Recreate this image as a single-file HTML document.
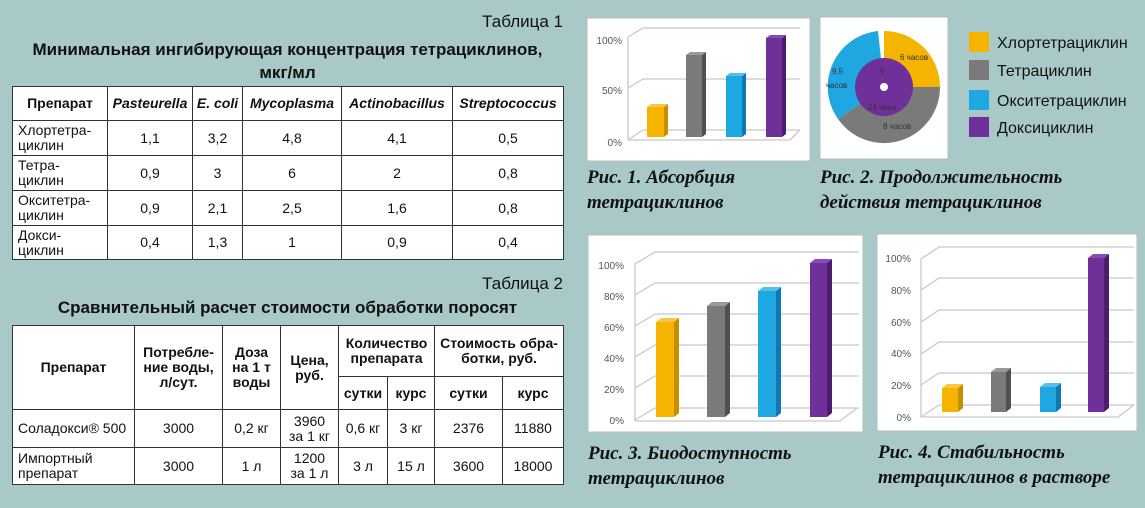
<!DOCTYPE html>
<html><head><meta charset="utf-8"><style>
*{margin:0;padding:0;box-sizing:border-box}
body{width:1145px;height:508px;background:#a9c9c9;position:relative;overflow:hidden;font-family:"Liberation Sans Narrow","Liberation Sans",sans-serif;color:#111}
.abs{position:absolute}
table{border-collapse:collapse;table-layout:fixed;background:#fff;position:absolute;left:12px}
td{border:1.3px solid #333;text-align:center;font-size:14px;line-height:15px;overflow:hidden;padding:0}
.l{text-align:left;padding-left:5px}
.b{font-weight:bold}
.i{font-style:italic;font-weight:bold}
.cap{position:absolute;font-family:"Liberation Serif",serif;font-style:italic;font-weight:bold;font-size:19px;line-height:25px;color:#111}
</style></head><body>
<div class="abs" style="right:582px;top:12px;font-size:17px">Таблица 1</div>
<div class="abs b" style="left:12px;width:551px;top:38px;text-align:center;font-size:17px;line-height:23px">Минимальная ингибирующая концентрация тетрациклинов,<br>мкг/мл</div>
<table style="top:86px;width:551px">
<colgroup><col style="width:95px"><col style="width:85px"><col style="width:50px"><col style="width:99px"><col style="width:111px"><col style="width:111px"></colgroup>
<tr style="height:34px"><td class="b">Препарат</td><td class="i">Pasteurella</td><td class="i">E. coli</td><td class="i">Mycoplasma</td><td class="i">Actinobacillus</td><td class="i">Streptococcus</td></tr>
<tr style="height:35px"><td class="l">Хлортетра-<br>циклин</td><td>1,1</td><td>3,2</td><td>4,8</td><td>4,1</td><td>0,5</td></tr>
<tr style="height:35px"><td class="l">Тетра-<br>циклин</td><td>0,9</td><td>3</td><td>6</td><td>2</td><td>0,8</td></tr>
<tr style="height:35px"><td class="l">Окситетра-<br>циклин</td><td>0,9</td><td>2,1</td><td>2,5</td><td>1,6</td><td>0,8</td></tr>
<tr style="height:34px"><td class="l">Докси-<br>циклин</td><td>0,4</td><td>1,3</td><td>1</td><td>0,9</td><td>0,4</td></tr>
</table>
<div class="abs" style="right:582px;top:274px;font-size:17px">Таблица 2</div>
<div class="abs b" style="left:12px;width:551px;top:296px;text-align:center;font-size:17px;line-height:23px">Сравнительный расчет стоимости обработки поросят</div>
<table style="top:325px;width:551px">
<colgroup><col style="width:122px"><col style="width:88px"><col style="width:58px"><col style="width:58px"><col style="width:49px"><col style="width:47px"><col style="width:68px"><col style="width:61px"></colgroup>
<tr style="height:51px"><td class="b" rowspan="2">Препарат</td><td class="b" rowspan="2">Потребле-<br>ние воды,<br>л/сут.</td><td class="b" rowspan="2">Доза<br>на 1 т<br>воды</td><td class="b" rowspan="2">Цена,<br>руб.</td><td class="b" colspan="2">Количество<br>препарата</td><td class="b" colspan="2">Стоимость обра-<br>ботки, руб.</td></tr>
<tr style="height:33px"><td class="b">сутки</td><td class="b">курс</td><td class="b">сутки</td><td class="b">курс</td></tr>
<tr style="height:38px"><td class="l">Соладокси® 500</td><td>3000</td><td>0,2 кг</td><td>3960<br>за 1 кг</td><td>0,6 кг</td><td>3 кг</td><td>2376</td><td>11880</td></tr>
<tr style="height:37px"><td class="l">Импортный<br>препарат</td><td>3000</td><td>1 л</td><td>1200<br>за 1 л</td><td>3 л</td><td>15 л</td><td>3600</td><td>18000</td></tr>
</table>

<svg class="abs" style="left:0;top:0" width="1145" height="508" font-family="Liberation Sans, sans-serif">
<!-- chart boxes -->
<rect x="587" y="18" width="223" height="143" fill="#fff" stroke="#bbb"/>
<rect x="820" y="17" width="128" height="142" fill="#fff" stroke="#bbb"/>
<rect x="588" y="235" width="275" height="197" fill="#fff" stroke="#bbb"/>
<rect x="877" y="234" width="260" height="197" fill="#fff" stroke="#bbb"/>
<g stroke="#c8c8c8" stroke-width="1.3" fill="none">
<!-- chart1 grid -->
<polyline points="628,37 643,28 800,28"/><polyline points="628,88 643,79 800,79"/><polyline points="628,140 643,130 800,130"/>
<line x1="628" y1="37" x2="628" y2="140"/><line x1="628" y1="140" x2="790" y2="140"/><line x1="790" y1="140" x2="800" y2="130"/>
<!-- chart3 grid -->
<polyline points="635,264 655,252 859,252"/><polyline points="635,295 655,283 859,283"/><polyline points="635,326 655,314 859,314"/><polyline points="635,357 655,345 859,345"/><polyline points="635,388 655,376 859,376"/><polyline points="635,420 655,408 859,408"/>
<line x1="635" y1="264" x2="635" y2="421"/><line x1="635" y1="421" x2="840" y2="421"/><line x1="840" y1="421" x2="857" y2="408"/>
<!-- chart4 grid -->
<polyline points="921,259 939,247 1134,247"/><polyline points="921,290 939,278 1134,278"/><polyline points="921,322 939,310 1134,310"/><polyline points="921,354 939,342 1134,342"/><polyline points="921,385 939,373 1134,373"/><polyline points="921,417 939,405 1134,405"/>
<line x1="921" y1="259" x2="921" y2="417"/><line x1="921" y1="417" x2="1118" y2="417"/><line x1="1118" y1="417" x2="1134" y2="405"/>
</g>
<g font-size="10" fill="#555" text-anchor="end">
<text x="622" y="44">100%</text><text x="622" y="94">50%</text><text x="622" y="146">0%</text>
<text x="624" y="269">100%</text><text x="624" y="300">80%</text><text x="624" y="331">60%</text><text x="624" y="362">40%</text><text x="624" y="393">20%</text><text x="624" y="424">0%</text>
<text x="911" y="262">100%</text><text x="911" y="294">80%</text><text x="911" y="326">60%</text><text x="911" y="357">40%</text><text x="911" y="389">20%</text><text x="911" y="421">0%</text>
</g>
<!-- bars: front, side, top -->
<g id="bars">
<!-- chart1 -->
<rect x="647" y="107" width="17" height="30" fill="#f5b400"/><polygon points="664,107 668,104 668,134 664,137" fill="#c68e00"/><polygon points="647,107 651,104 668,104 664,107" fill="#f9c640"/>
<rect x="686" y="55" width="16" height="82" fill="#7a7a7a"/><polygon points="702,55 706,52 706,134 702,137" fill="#505050"/><polygon points="686,55 690,52 706,52 702,55" fill="#999"/>
<rect x="726" y="76" width="16" height="61" fill="#1ea7e0"/><polygon points="742,76 746,73 746,134 742,137" fill="#0f78b0"/><polygon points="726,76 730,73 746,73 742,76" fill="#55c0ee"/>
<rect x="766" y="38" width="16" height="99" fill="#70309a"/><polygon points="782,38 786,35 786,134 782,137" fill="#4b1d6e"/><polygon points="766,38 770,35 786,35 782,38" fill="#8a4cb4"/>
<!-- chart3 -->
<rect x="656" y="322" width="18" height="95" fill="#f5b400"/><polygon points="674,322 679,318 679,413 674,417" fill="#c68e00"/><polygon points="656,322 661,318 679,318 674,322" fill="#f9c640"/>
<rect x="707" y="306" width="18" height="111" fill="#7a7a7a"/><polygon points="725,306 730,302 730,413 725,417" fill="#505050"/><polygon points="707,306 712,302 730,302 725,306" fill="#999"/>
<rect x="758" y="291" width="18" height="126" fill="#1ea7e0"/><polygon points="776,291 781,287 781,413 776,417" fill="#0f78b0"/><polygon points="758,291 763,287 781,287 776,291" fill="#55c0ee"/>
<rect x="810" y="263" width="17" height="154" fill="#70309a"/><polygon points="827,263 832,259 832,413 827,417" fill="#4b1d6e"/><polygon points="810,263 815,259 832,259 827,263" fill="#8a4cb4"/>
<!-- chart4 -->
<rect x="942" y="388" width="16" height="24" fill="#f5b400"/><polygon points="958,388 963,384 963,408 958,412" fill="#c68e00"/><polygon points="942,388 947,384 963,384 958,388" fill="#f9c640"/>
<rect x="991" y="372" width="15" height="40" fill="#7a7a7a"/><polygon points="1006,372 1011,368 1011,408 1006,412" fill="#505050"/><polygon points="991,372 996,368 1011,368 1006,372" fill="#999"/>
<rect x="1040" y="387" width="16" height="25" fill="#1ea7e0"/><polygon points="1056,387 1061,383 1061,408 1056,412" fill="#0f78b0"/><polygon points="1040,387 1045,383 1061,383 1056,387" fill="#55c0ee"/>
<rect x="1088" y="258" width="16" height="154" fill="#70309a"/><polygon points="1104,258 1109,254 1109,408 1104,412" fill="#4b1d6e"/><polygon points="1088,258 1093,254 1109,254 1104,258" fill="#8a4cb4"/>
</g>
<!-- donut -->
<path d="M884,87 L884,31 A56,56 0 0 1 940,87 Z" fill="#f5b400"/>
<path d="M884,87 L940,87 A56,56 0 0 1 838,119 Z" fill="#7a7a7a"/>
<path d="M884,87 L838,119 A56,56 0 0 1 878,31 Z" fill="#1ea7e0"/>
<circle cx="884" cy="87" r="29" fill="#70309a"/>
<circle cx="884" cy="87" r="4" fill="#fff"/>
<g font-size="8" fill="#333">
<text x="900" y="60">6 часов</text><text x="832" y="74">9,5</text><text x="826" y="88">часов</text><text x="880" y="73">0</text><text x="868" y="110">24 часа</text><text x="883" y="129">8 часов</text>
</g>
<!-- legend -->
<rect x="969" y="32" width="20" height="20" fill="#f5b400"/>
<rect x="969" y="60" width="20" height="20" fill="#7a7a7a"/>
<rect x="969" y="90" width="20" height="20" fill="#1ea7e0"/>
<rect x="969" y="117" width="20" height="20" fill="#70309a"/>
<g font-size="16" fill="#111" font-family="Liberation Sans Narrow, Liberation Sans, sans-serif">
<text x="997" y="48">Хлортетрациклин</text><text x="997" y="76">Тетрациклин</text><text x="997" y="106">Окситетрациклин</text><text x="997" y="133">Доксициклин</text>
</g>
</svg>
<div class="cap" style="left:587px;top:165px">Рис. 1. Абсорбция<br>тетрациклинов</div>
<div class="cap" style="left:820px;top:165px">Рис. 2. Продолжительность<br>действия тетрациклинов</div>
<div class="cap" style="left:588px;top:441px">Рис. 3. Биодоступность<br>тетрациклинов</div>
<div class="cap" style="left:878px;top:440px">Рис. 4. Стабильность<br>тетрациклинов в растворе</div>
</body></html>
